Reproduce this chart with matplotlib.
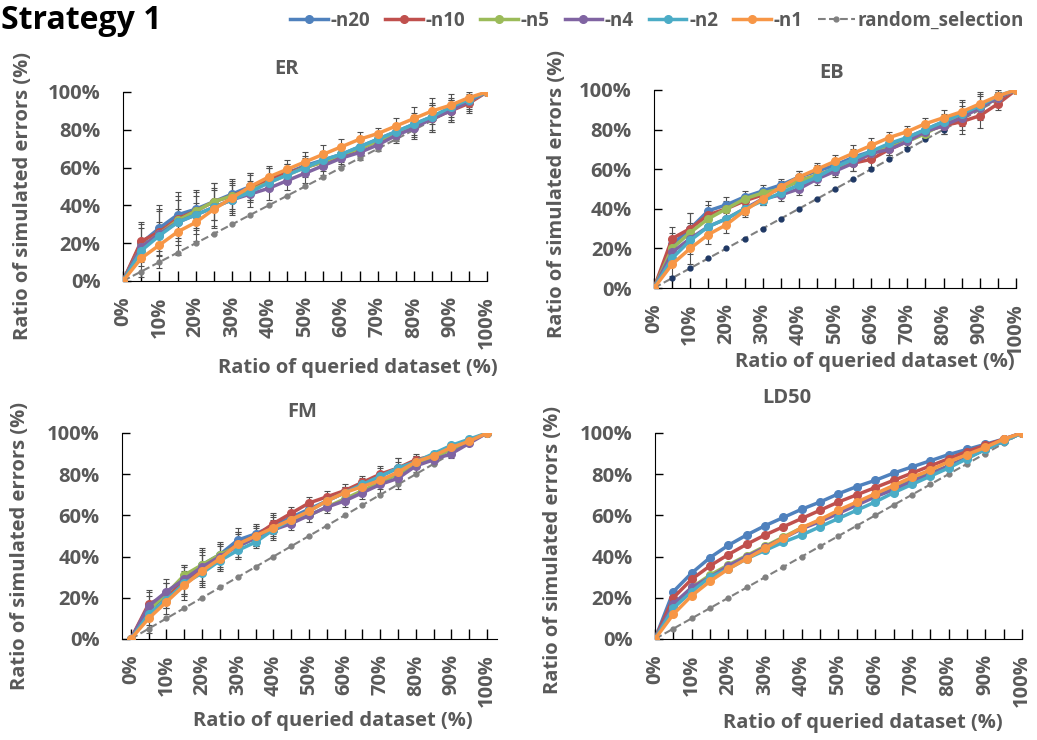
import matplotlib.pyplot as plt
import numpy as np

plt.rcParams['font.family'] = ['Open Sans', 'DejaVu Sans']

x_pct = [0, 5, 10, 15, 20, 25, 30, 35, 40, 45, 50, 55, 60, 65, 70, 75, 80, 85, 90, 95, 100]
series_names = ['-n20', '-n10', '-n5', '-n4', '-n2', '-n1']
random_sel = [0, 5, 10, 15, 20, 25, 30, 35, 40, 45, 50, 55, 60, 65, 70, 75, 80, 85, 90, 95, 100]

# ER
er_n20 = [0, 20, 28, 35, 38, 42, 46, 50, 54, 57, 61, 64, 67, 71, 75, 79, 83, 87, 91, 96, 100]
er_n10 = [0, 21, 26, 33, 37, 42, 45, 49, 54, 57, 60, 63, 66, 70, 74, 78, 82, 86, 90, 94, 100]
er_n5 = [0, 18, 25, 32, 37, 42, 45, 48, 52, 56, 60, 63, 67, 70, 74, 78, 82, 87, 91, 95, 100]
er_n4 = [0, 18, 25, 31, 35, 39, 43, 46, 49, 53, 57, 61, 65, 68, 72, 77, 81, 86, 90, 95, 100]
er_n2 = [0, 16, 24, 31, 35, 39, 43, 47, 52, 56, 60, 64, 67, 71, 75, 79, 83, 87, 92, 96, 100]
er_n1 = [0, 12, 19, 26, 31, 38, 44, 50, 55, 59, 63, 67, 71, 75, 78, 82, 86, 90, 93, 97, 100]
er_err = [0, 10, 12, 12, 10, 10, 8, 7, 6, 5, 5, 5, 4, 4, 3, 4, 6, 7, 6, 5, 0]

# EB
eb_n20 = [0, 22, 30, 39, 42, 46, 49, 52, 56, 59, 62, 66, 69, 72, 76, 80, 84, 88, 92, 96, 100]
eb_n10 = [0, 25, 30, 37, 40, 44, 47, 50, 54, 57, 60, 63, 65, 70, 74, 79, 82, 84, 87, 93, 100]
eb_n5 = [0, 20, 28, 35, 40, 45, 48, 50, 54, 57, 60, 64, 68, 71, 74, 78, 83, 87, 91, 96, 100]
eb_n4 = [0, 18, 25, 31, 35, 40, 45, 47, 50, 55, 59, 63, 68, 70, 74, 79, 82, 86, 91, 96, 100]
eb_n2 = [0, 15, 24, 31, 35, 40, 44, 48, 52, 56, 61, 65, 69, 73, 76, 80, 84, 88, 92, 97, 100]
eb_n1 = [0, 12, 20, 27, 32, 39, 45, 51, 56, 60, 64, 68, 72, 76, 79, 83, 86, 89, 93, 97, 100]
eb_err = [0, 6, 8, 5, 4, 3, 3, 3, 3, 3, 3, 4, 4, 3, 3, 3, 4, 6, 6, 3, 0]

# FM
fm_n20 = [0, 14, 21, 29, 36, 41, 48, 51, 55, 59, 63, 67, 71, 75, 79, 83, 86, 89, 93, 96, 100]
fm_n10 = [0, 17, 21, 28, 34, 40, 46, 50, 56, 61, 66, 69, 72, 76, 80, 83, 87, 89, 92, 96, 100]
fm_n5 = [0, 14, 22, 31, 36, 41, 45, 49, 53, 57, 60, 64, 68, 72, 76, 80, 85, 88, 92, 96, 100]
fm_n4 = [0, 16, 23, 29, 35, 40, 45, 49, 53, 56, 60, 64, 67, 71, 75, 78, 84, 87, 90, 95, 100]
fm_n2 = [0, 12, 19, 27, 32, 38, 43, 47, 53, 58, 62, 67, 71, 75, 79, 83, 86, 90, 94, 97, 100]
fm_n1 = [0, 10, 18, 26, 33, 39, 46, 50, 54, 58, 62, 67, 71, 74, 77, 81, 86, 89, 93, 96, 100]
fm_err = [0, 7, 6, 7, 8, 6, 6, 5, 5, 3, 3, 3, 3, 3, 4, 5, 3, 2, 2, 1, 0]

# LD50
ld_n20 = [0, 23, 32, 39.5, 45.5, 50.5, 55, 59, 63, 66.5, 70.5, 74, 77, 80.5, 83.5, 86.5, 89.5, 92, 94.5, 97, 100]
ld_n10 = [0, 20, 29, 35.5, 41, 46, 50.5, 54.5, 58.5, 62.5, 66.5, 70, 73.5, 77, 80.5, 84, 87.5, 91, 94, 97, 100]
ld_n5 = [0, 16, 25, 31, 36, 40.5, 45, 49.5, 54, 57.5, 61.5, 65.5, 69.5, 73.5, 77, 80.5, 84, 88, 92, 96, 100]
ld_n4 = [0, 17, 25, 30, 35.5, 40, 44.5, 49, 53.5, 57, 61, 65, 69, 72.5, 76.5, 80, 84, 88, 92, 96, 100]
ld_n2 = [0, 15, 23, 30, 34, 39, 43, 47, 50.5, 54.5, 58.5, 62.5, 66.5, 71, 75, 79, 83, 87.5, 92, 96, 100]
ld_n1 = [0, 12, 21, 28, 34, 39, 44, 49, 54, 58, 62.5, 66.5, 70.5, 74.5, 78.5, 82, 86, 89.5, 93, 97, 100]

couleurs = ['#4F81BD', '#C0504D', '#9BBB59', '#8064A2', '#4BACC6', '#F79646']
avec_barres = [True, True, False, True, False, True]  # séries avec barres d'erreur
texte = '#595959'
taille = 14.5

# titre, séries, erreurs, rect, xlim, couleur marqueurs aléatoire, pos titre, pos xlabel, pos ylabel
panneaux = [
    ('ER', [er_n20, er_n10, er_n5, er_n4, er_n2, er_n1], er_err, [0.1186, 0.6203, 0.351, 0.2554],
     (0, 100), '#808080', (0.45, 1.12), (1.03, -0.46), (-0.275, 0.45)),
    ('EB', [eb_n20, eb_n10, eb_n5, eb_n4, eb_n2, eb_n1], eb_err, [0.6307, 0.6108, 0.349, 0.2676],
     (0, 100), '#1F3864', (0.49, 1.085), (0.995, -0.375), (-0.268, 0.475)),
    ('FM', [fm_n20, fm_n10, fm_n5, fm_n4, fm_n2, fm_n1], fm_err, [0.1176, 0.1365, 0.3617, 0.2784],
     (-2.5, 102.8), '#808080', (0.48, 1.10), (0.935, -0.40), (-0.272, 0.45)),
    ('LD50', [ld_n20, ld_n10, ld_n5, ld_n4, ld_n2, ld_n1], None, [0.6316, 0.1365, 0.3539, 0.2784],
     (0, 100), '#808080', (0.36, 1.17), (0.946, -0.41), (-0.278, 0.43)),
]

fig = plt.figure(figsize=(10.37, 7.4), dpi=100)

handles = []
for titre, series, err, rect, xlim, couleur_rand, pos_t, pos_x, pos_y in panneaux:
    ax = fig.add_axes(rect)
    lignes = []
    for nom, vals, c, b in zip(series_names, series, couleurs, avec_barres):
        if err is not None and b:
            ax.errorbar(x_pct, vals, yerr=err, fmt='none', ecolor='#505050',
                        elinewidth=0.8, capsize=2, capthick=0.8, zorder=2)
        l, = ax.plot(x_pct, vals, '-o', color=c, lw=2.5, ms=5.5, label=nom, zorder=3)
        lignes.append(l)
    r, = ax.plot(x_pct, random_sel, '--o', color='#808080', lw=1.5, ms=3.5,
                 mfc=couleur_rand, mec=couleur_rand, label='random_selection', zorder=2.5)
    lignes.append(r)
    if not handles:
        handles = lignes

    ax.set_xlim(*xlim)
    ax.set_ylim(0, 100)
    ax.set_yticks(range(0, 101, 20))
    ax.set_yticklabels([f'{v}%' for v in range(0, 101, 20)])
    ax.set_xticks(range(0, 101, 5))
    ax.set_xticklabels([f'{v}%' if v % 10 == 0 else '' for v in range(0, 101, 5)], rotation=90)
    ax.tick_params(axis='x', direction='in', length=7, width=1, colors='black',
                   labelcolor=texte, labelsize=taille, pad=11)
    ax.tick_params(axis='y', direction='in', length=6, width=1, colors='black',
                   labelcolor=texte, labelsize=taille, pad=16)
    for lab in ax.get_xticklabels() + ax.get_yticklabels():
        lab.set_fontweight('bold')
    ax.spines['top'].set_visible(False)
    ax.spines['right'].set_visible(False)
    ax.spines['left'].set_color('black')
    ax.spines['bottom'].set_color('black')
    ax.text(pos_t[0], pos_t[1], titre, transform=ax.transAxes, color=texte, fontsize=taille,
            fontweight='bold', ha='center', va='center')
    ax.set_xlabel('Ratio of queried dataset (%)', color=texte, fontsize=taille,
                  fontweight='bold', ha='right', va='center')
    ax.xaxis.set_label_coords(*pos_x)
    ax.set_ylabel('Ratio of simulated errors (%)', color=texte, fontsize=taille,
                  fontweight='bold', va='center')
    ax.yaxis.set_label_coords(*pos_y)

fig.text(0.001, 0.972, 'Strategy 1', fontsize=23, fontweight='bold', color='black', va='center')

leg = fig.legend(handles, series_names + ['random_selection'], loc='center right',
                 bbox_to_anchor=(1.004, 0.972), ncol=7, frameon=False,
                 handlelength=2.0, handletextpad=0.15, columnspacing=0.8, fontsize=13.5)
for t in leg.get_texts():
    t.set_color(texte)
    t.set_fontweight('bold')

plt.savefig('out.png', dpi=100)
